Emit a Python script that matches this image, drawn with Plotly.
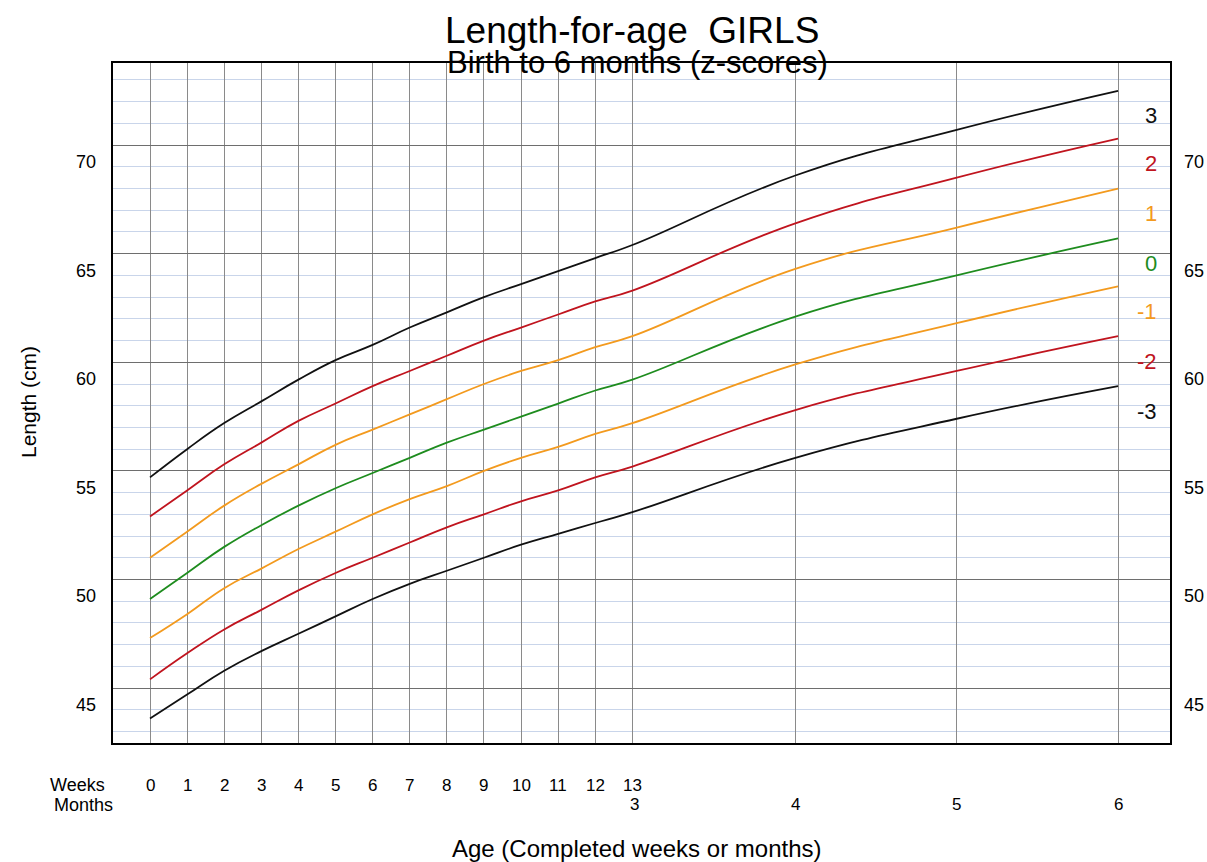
import plotly.graph_objects as go

# Ages in days: weeks 0..13, then months 4, 5, 6
weeks = list(range(0, 14))
months_lab = [3, 4, 5, 6]
age_days = [w * 7 for w in weeks] + [m * 30.4375 for m in [4, 5, 6]]

# WHO length-for-age girls (cm), z-scores
sd_m3 = [43.6, 44.7, 45.8, 46.7, 47.5, 48.3, 49.1, 49.8, 50.4, 51.0, 51.6, 52.1, 52.6, 53.1, 55.6, 57.4, 58.9]
sd_m2 = [45.4, 46.6, 47.7, 48.6, 49.5, 50.3, 51.0, 51.7, 52.4, 53.0, 53.6, 54.1, 54.7, 55.2, 57.8, 59.6, 61.2]
sd_m1 = [47.3, 48.4, 49.6, 50.5, 51.4, 52.2, 53.0, 53.7, 54.3, 55.0, 55.6, 56.1, 56.7, 57.2, 59.9, 61.8, 63.5]
sd_0 = [49.1, 50.3, 51.5, 52.5, 53.4, 54.2, 54.9, 55.6, 56.3, 56.9, 57.5, 58.1, 58.7, 59.2, 62.1, 64.0, 65.7]
sd_p1 = [51.0, 52.2, 53.4, 54.4, 55.3, 56.2, 56.9, 57.6, 58.3, 59.0, 59.6, 60.1, 60.7, 61.2, 64.3, 66.2, 68.0]
sd_p2 = [52.9, 54.1, 55.3, 56.3, 57.3, 58.1, 58.9, 59.6, 60.3, 61.0, 61.6, 62.2, 62.8, 63.3, 66.4, 68.5, 70.3]
sd_p3 = [54.7, 56.0, 57.2, 58.2, 59.2, 60.1, 60.8, 61.6, 62.3, 63.0, 63.6, 64.2, 64.8, 65.4, 68.6, 70.7, 72.5]

series = [
    ("3", sd_p3, "#111111"),
    ("2", sd_p2, "#C0141E"),
    ("1", sd_p1, "#F39A1E"),
    ("0", sd_0, "#1E8C1E"),
    ("-1", sd_m1, "#F39A1E"),
    ("-2", sd_m2, "#C0141E"),
    ("-3", sd_m3, "#111111"),
]

y_ticks = [45, 50, 55, 60, 65, 70]

fig = go.Figure()
for name, vals, col in series:
    fig.add_trace(go.Scatter(x=age_days, y=vals, mode="lines", name=name,
                             line=dict(color=col, width=1.8, shape="spline", smoothing=1.3),
                             showlegend=False, hoverinfo="skip"))

grid_x = [w * 7 for w in weeks] + [m * 30.4375 for m in [4, 5, 6]]

fig.update_layout(
    width=1207, height=862,
    margin=dict(l=113, r=37, t=63, b=119),
    paper_bgcolor="white", plot_bgcolor="white",
    font=dict(family="Liberation Sans, Arial, sans-serif", color="black"),
    xaxis=dict(range=[-6.98, 192.43], tickvals=grid_x, showticklabels=False,
               showgrid=True, gridcolor="#8a8a8a", gridwidth=1, zeroline=False,
               showline=True, linecolor="black", linewidth=2, mirror=True, ticks=""),
    yaxis=dict(range=[42.47, 73.78], tickvals=y_ticks, showticklabels=False,
               showgrid=True, gridcolor="#6e6e6e", gridwidth=1, zeroline=False,
               showline=True, linecolor="black", linewidth=2, mirror=True, ticks="",
               minor=dict(dtick=1, tick0=0, showgrid=True, gridcolor="#C9D5EA", gridwidth=1.2)),
)

ann = []
# y tick labels (left and right)
for v in y_ticks:
    ann.append(dict(x=0, xref="paper", y=v, yref="y", text=str(v), showarrow=False,
                    xanchor="center", xshift=-27, yshift=-17, font=dict(size=18)))
    ann.append(dict(x=1, xref="paper", y=v, yref="y", text=str(v), showarrow=False,
                    xanchor="center", xshift=24, yshift=-17, font=dict(size=18)))

# z-score labels at right end
for name, vals, col in series:
    ann.append(dict(x=190.3, xref="x", y=vals[-1], yref="y", text=name, showarrow=False,
                    xanchor="right", yshift=-25, font=dict(size=22, color=col)))

# week labels
for w in weeks:
    ann.append(dict(x=w * 7, xref="x", y=-42 / 680, yref="paper", text=str(w), showarrow=False,
                    xanchor="center", yanchor="middle", font=dict(size=17)))
# month labels
for m in months_lab:
    ann.append(dict(x=m * 30.4375, xref="x", y=-62 / 680, yref="paper", text=str(m), showarrow=False,
                    xanchor="center", yanchor="middle", font=dict(size=17)))
ann.append(dict(x=0, xref="paper", y=-42 / 680, yref="paper", text="Weeks", showarrow=False,
                xanchor="center", yanchor="middle", font=dict(size=18), xshift=-113 + 77))
ann.append(dict(x=0, xref="paper", y=-62 / 680, yref="paper", text="Months", showarrow=False,
                xanchor="center", yanchor="middle", font=dict(size=18), xshift=-113 + 83))

# axis titles
ann.append(dict(x=0, xref="paper", y=-(849 - 743) / 680, yref="paper",
                text="Age (Completed weeks or months)", showarrow=False,
                xanchor="center", yanchor="middle", xshift=-113 + 637, font=dict(size=24)))
ann.append(dict(x=0, xref="paper", y=(743 - 402) / 680, yref="paper", text="Length (cm)",
                showarrow=False, textangle=-90, xanchor="center", yanchor="middle",
                xshift=-113 + 28, font=dict(size=21)))
# titles
ann.append(dict(x=0, xref="paper", y=1, yref="paper", text="Length-for-age  GIRLS",
                showarrow=False, xanchor="center", yanchor="middle",
                xshift=-113 + 632, yshift=63 - 30, font=dict(size=37)))
ann.append(dict(x=0, xref="paper", y=1, yref="paper", text="Birth to 6 months (z-scores)",
                showarrow=False, xanchor="center", yanchor="middle",
                xshift=-113 + 637, yshift=63 - 62, font=dict(size=31)))

fig.update_layout(annotations=ann)
fig.write_html("out.html", config={"displayModeBar": False},
               post_script="document.body.style.margin='0';document.body.style.overflow='hidden';")
